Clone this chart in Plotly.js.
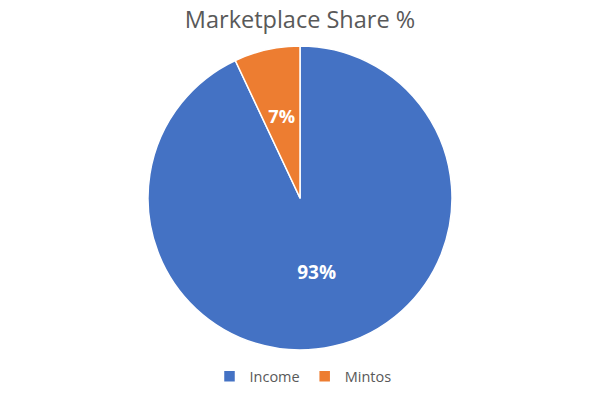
<!DOCTYPE html>
<html><head><meta charset="utf-8">
<script src="https://cdn.plot.ly/plotly-3.0.1.min.js"></script>
<style>html,body{margin:0;padding:0;background:#fff}#c{width:600px;height:399px}</style>
</head><body><div id="c"></div>
<script>
const labels = ["Income", "Mintos"];
const values = [93, 7];
const colors = ["#4472C4", "#ED7D31"];

const font = "Open Sans, sans-serif";
const cx = 300, cy = 201, R = 152, r2 = 102;

Plotly.newPlot("c", [{
  type: "pie",
  labels: labels,
  values: values,
  sort: false,
  direction: "clockwise",
  rotation: 0,
  marker: {colors: colors, line: {color: "#ffffff", width: 1.5}},
  texttemplate: ["%{percent:.0%}", ""],
  textposition: "inside",
  insidetextorientation: "horizontal",
  insidetextfont: {color: "#ffffff", size: 19, family: font, weight: "bold"},
  hoverinfo: "none",
  domain: {x: [(cx-R)/600, (cx+R)/600], y: [(cy-R)/399, (cy+R)/399]}
}, {
  type: "pie",
  labels: labels,
  values: values,
  sort: false,
  direction: "clockwise",
  rotation: 0,
  showlegend: false,
  marker: {colors: ["rgba(0,0,0,0)", "rgba(0,0,0,0)"], line: {width: 0}},
  texttemplate: ["", "%{percent:.0%}"],
  textposition: "inside",
  insidetextorientation: "horizontal",
  insidetextfont: {color: "#ffffff", size: 19, family: font, weight: "bold"},
  hoverinfo: "none",
  domain: {x: [(cx-r2)/600, (cx+r2)/600], y: [(cy-r2)/399, (cy+r2)/399]}
}], {
  width: 600, height: 399,
  margin: {l: 0, r: 0, t: 0, b: 0},
  paper_bgcolor: "#ffffff",
  title: {text: "Marketplace Share %", font: {family: font, size: 23.5, color: "#595959"}, x: 0.5, xanchor: "center", y: 0.95, yanchor: "middle"},
  showlegend: true,
  legend: {orientation: "h", x: 0.505, xanchor: "center", y: 0.057, yanchor: "middle", font: {family: font, size: 14.5, color: "#595959"}, itemwidth: 30, traceorder: "normal"}
}, {displayModeBar: false, staticPlot: true});
</script>
</body></html>
